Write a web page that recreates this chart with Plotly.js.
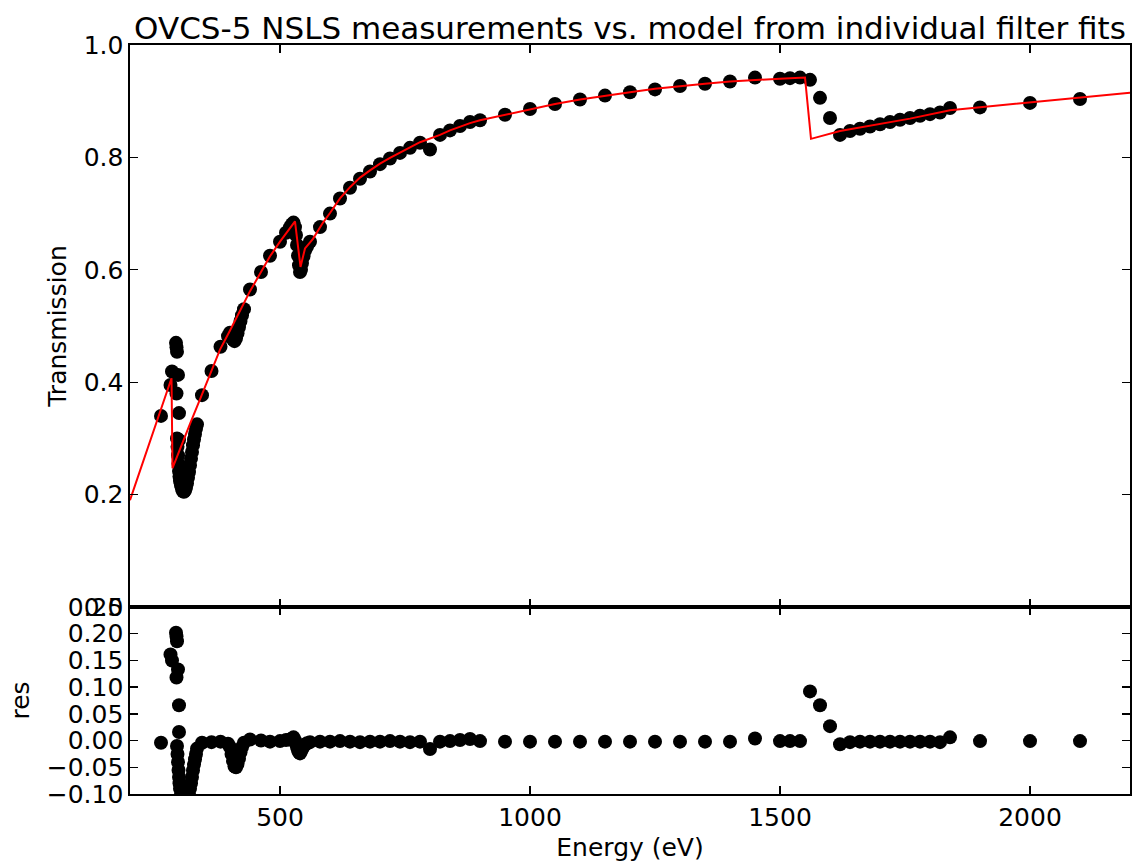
<!DOCTYPE html>
<html>
<head>
<meta charset="utf-8">
<script src="https://cdn.plot.ly/plotly-3.0.1.min.js"></script>
<style>html,body{margin:0;padding:0;background:#fff;}#chart{width:1133px;height:867px;}</style>
</head>
<body>
<div id="chart"></div>
<script>
// Measured points (energy in eV), transmission and residual
const energy = [
  262, 281, 284, 292, 293, 294, 296, 293, 298, 298,
  294, 295, 296, 297, 298, 299, 300, 302, 304, 306, 308, 310, 312, 314, 316, 318, 320, 322, 324, 326, 328, 330, 332, 334,
  344, 363, 381, 396, 400, 403, 406, 409, 412, 415, 418, 421, 424, 428,
  440, 462, 480, 500, 512,
  520, 524, 527, 530, 532, 534, 536, 538, 540, 542, 544, 547, 550, 554, 560,
  580, 600, 620, 640, 660, 680, 700, 720, 740, 760, 780, 800, 820, 840, 860, 880, 900,
  950, 1000, 1050, 1100, 1150, 1200, 1250, 1300, 1350, 1400, 1450, 1500, 1520, 1540,
  1560, 1580, 1600, 1620, 1640, 1660, 1680, 1700, 1720, 1740, 1760, 1780, 1800, 1820, 1840,
  1900, 2000, 2100
];
const transmission = [
  0.340, 0.395, 0.419, 0.470, 0.462, 0.454, 0.413, 0.380, 0.345, 0.297,
  0.300, 0.285, 0.270, 0.255, 0.242, 0.232, 0.224, 0.216, 0.210, 0.206, 0.205, 0.207, 0.212, 0.220, 0.230, 0.240, 0.252, 0.264, 0.276, 0.288, 0.298, 0.308, 0.317, 0.325,
  0.377, 0.420, 0.463, 0.482, 0.488, 0.482, 0.476, 0.473, 0.478, 0.487, 0.498, 0.509, 0.519, 0.530,
  0.565, 0.596, 0.625, 0.650, 0.666,
  0.676, 0.681, 0.684, 0.676, 0.662, 0.644, 0.625, 0.608, 0.596, 0.600, 0.612, 0.624, 0.634, 0.641, 0.650,
  0.676, 0.700, 0.727, 0.746, 0.762, 0.775, 0.788, 0.798, 0.808, 0.817, 0.826, 0.814, 0.840, 0.848, 0.856, 0.863, 0.866,
  0.876, 0.886, 0.895, 0.903, 0.910, 0.916, 0.921, 0.927, 0.931, 0.935, 0.942, 0.940, 0.941, 0.942,
  0.938, 0.906, 0.870, 0.840, 0.847, 0.851, 0.855, 0.859, 0.863, 0.867, 0.870, 0.874, 0.877, 0.880, 0.888,
  0.889, 0.897, 0.904
];
const residual = [
  -0.004, 0.161, 0.150, 0.202, 0.195, 0.186, 0.133, 0.118, 0.066, 0.016,
  -0.010, -0.025, -0.040, -0.055, -0.068, -0.080, -0.090, -0.100, -0.110, -0.118, -0.122, -0.124, -0.122, -0.115, -0.108, -0.100, -0.090, -0.080, -0.068, -0.056, -0.045, -0.035, -0.025, -0.015,
  -0.004, -0.003, -0.002, -0.006, -0.012, -0.025, -0.038, -0.048, -0.050, -0.044, -0.034, -0.022, -0.012, -0.004,
  0.002, 0.000, -0.002, -0.001, 0.001,
  0.002, 0.004, 0.006, 0.000, -0.006, -0.012, -0.018, -0.022, -0.024, -0.020, -0.016, -0.011, -0.008, -0.005, -0.003,
  -0.002, -0.002, -0.001, -0.002, -0.003, -0.002, -0.002, -0.001, -0.002, -0.003, -0.002, -0.016, -0.002, -0.001, 0.001, 0.003, -0.001,
  -0.002, -0.002, -0.002, -0.002, -0.002, -0.002, -0.002, -0.002, -0.002, -0.002, 0.004, -0.001, -0.001, -0.001,
  0.092, 0.066, 0.027, -0.007, -0.003, -0.002, -0.002, -0.002, -0.002, -0.002, -0.002, -0.002, -0.002, -0.003, 0.006,
  -0.001, -0.001, -0.001
];

// Model curve from individual filter fits
const modelEnergy = [
  200, 283, 285, 300, 320, 343, 363, 380, 400, 420, 440, 462, 480, 500, 515, 530, 541, 550, 566, 586,
  600, 620, 640, 660, 680, 700, 720, 740, 760, 780, 800, 820, 840, 860, 880, 900,
  950, 1000, 1050, 1100, 1150, 1200, 1250, 1300, 1350, 1400, 1450, 1500, 1550, 1562,
  1620, 1640, 1700, 1760, 1840, 1900, 2000, 2100, 2200
];
const modelTransmission = [
  0.190, 0.407, 0.247, 0.282, 0.326, 0.376, 0.420, 0.458, 0.492, 0.526, 0.562, 0.596, 0.624, 0.650, 0.667, 0.686, 0.605, 0.638, 0.655, 0.684,
  0.701, 0.727, 0.747, 0.764, 0.777, 0.789, 0.799, 0.809, 0.818, 0.827, 0.833, 0.840, 0.848, 0.855, 0.861, 0.866,
  0.876, 0.886, 0.895, 0.903, 0.910, 0.916, 0.922, 0.927, 0.931, 0.935, 0.938, 0.940, 0.942, 0.833,
  0.847, 0.850, 0.860, 0.869, 0.884, 0.889, 0.898, 0.906, 0.915
];

const xTicks = [500, 1000, 1500, 2000];
const mainYTicks = [0.0, 0.2, 0.4, 0.6, 0.8, 1.0];
const resYTicks = [-0.10, -0.05, 0.00, 0.05, 0.10, 0.15, 0.20, 0.25];

const FONT = 'DejaVu Sans, Bitstream Vera Sans, sans-serif';
const tickFont = {family: FONT, size: 25, color: '#000'};

const axisBase = {
  showline: true, linecolor: '#000', linewidth: 1.6, mirror: 'ticks',
  ticks: 'inside', ticklen: 8, tickwidth: 1.4, tickcolor: '#000',
  showgrid: false, zeroline: false, tickfont: tickFont, automargin: false
};

const traces = [
  {x: energy, y: transmission, xaxis: 'x2', yaxis: 'y2', type: 'scatter', mode: 'markers',
   marker: {color: '#000', size: 14}, cliponaxis: true, showlegend: false, hoverinfo: 'skip'},
  {x: modelEnergy, y: modelTransmission, xaxis: 'x2', yaxis: 'y2', type: 'scatter', mode: 'lines',
   line: {color: '#ff0000', width: 2}, cliponaxis: true, showlegend: false, hoverinfo: 'skip'},
  {x: energy, y: residual, xaxis: 'x', yaxis: 'y', type: 'scatter', mode: 'markers',
   marker: {color: '#000', size: 14}, cliponaxis: true, showlegend: false, hoverinfo: 'skip'}
];

const split = 187 / 749;
const layout = {
  width: 1133, height: 867,
  margin: {l: 130, r: 3, t: 45, b: 73},
  paper_bgcolor: '#fff', plot_bgcolor: '#fff',
  font: {family: FONT, color: '#000'},
  title: {text: 'OVCS-5 NSLS measurements vs. model from individual filter fits',
          font: {family: FONT, size: 31, color: '#000'},
          xref: 'paper', x: 0.5, xanchor: 'center', yref: 'paper', y: 1, yanchor: 'bottom', pad: {b: 6}},
  xaxis: Object.assign({}, axisBase, {domain: [0, 1], range: [200, 2200], anchor: 'y',
          tickmode: 'array', tickvals: xTicks,
          title: {text: 'Energy (eV)', font: {family: FONT, size: 25, color: '#000'}, standoff: 8}}),
  yaxis: Object.assign({}, axisBase, {domain: [0, split], range: [-0.10, 0.25], anchor: 'x',
          tickmode: 'array', tickvals: resYTicks, tickformat: '.2f',
          title: {text: 'res', font: {family: FONT, size: 25, color: '#000'}, standoff: 10}}),
  xaxis2: Object.assign({}, axisBase, {domain: [0, 1], range: [200, 2200], anchor: 'y2', matches: 'x',
          tickmode: 'array', tickvals: xTicks, showticklabels: false}),
  yaxis2: Object.assign({}, axisBase, {domain: [split, 1], range: [0, 1], anchor: 'x2',
          tickmode: 'array', tickvals: mainYTicks, tickformat: '.1f',
          title: {text: 'Transmission', font: {family: FONT, size: 25, color: '#000'}, standoff: 10}})
};

Plotly.newPlot('chart', traces, layout, {staticPlot: true, displayModeBar: false});
</script>
</body>
</html>
